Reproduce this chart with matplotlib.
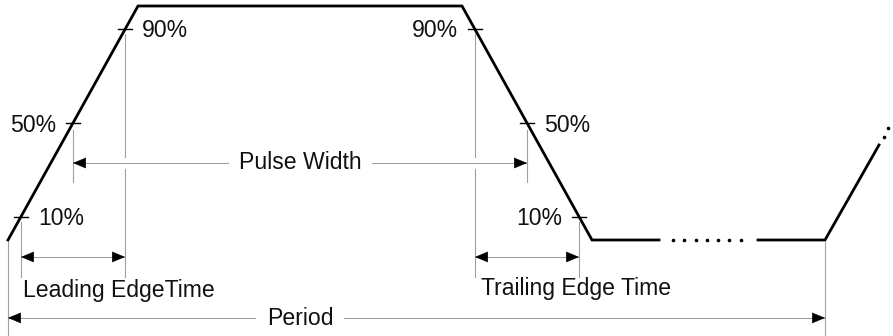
"""Pulse timing diagram: leading/trailing edge time, pulse width, period."""
import matplotlib
matplotlib.use("Agg")
import matplotlib.pyplot as plt

plt.rcParams["font.family"] = ["Liberation Sans", "DejaVu Sans"]

# waveform (x in px-like time units, y in normalised level 0..1)
WAVE_T = [8, 138, 462, 592, 659]
WAVE_LEVEL = [0.0, 1.0, 1.0, 0.0, 0.0]
GAP_DOTS_T = [673, 684, 696, 707, 718, 729, 741]
TAIL_T = [758, 825, 879]
TAIL_LEVEL = [0.0, 0.0, 0.406]
TAIL_DOTS_T = [884, 888]
TAIL_DOTS_LEVEL = [0.44, 0.48]

PCT_LEVELS = [0.1, 0.5, 0.9]
PCT_LABELS = ["10%", "50%", "90%"]
RISE_CROSS_T = [21, 73, 125]    # crossing times for 10/50/90 %
FALL_CROSS_T = [579, 527, 475]
RISE_SIDE = [1, -1, 1]     # label to the right (+1) or left (-1) of the tick
FALL_SIDE = [-1, 1, -1]
LABEL_BASE = [0.064, 0.462, 0.868]

PERIOD_T = (8, 825)
LINE_GREY = "#a0a0a0"
BLACK = "#000000"
FS = 16.6


def guide(ax, x, y0, y1):
    ax.plot([x, x], [y0, y1], color=LINE_GREY, lw=0.8, zorder=1)


def head(ax, x, y, direction):
    ax.annotate("", xy=(x, y), xytext=(-9.0 * direction, 0),
                textcoords="offset points",
                arrowprops=dict(arrowstyle="-|>,head_length=8.6,head_width=3.6",
                                mutation_scale=1, color=BLACK, lw=0.4,
                                shrinkA=0, shrinkB=0), zorder=4)


def dim_arrow(ax, x0, x1, y):
    ax.plot([x0, x1], [y, y], color=LINE_GREY, lw=0.8, zorder=1)
    head(ax, x0, y, -1)
    head(ax, x1, y, 1)


fig = plt.figure(figsize=(8.93, 3.36), dpi=100)
ax = fig.add_axes([0, 0, 1, 1])
ax.set_xlim(0, 893)
ax.set_ylim(-0.4103, 1.0256)
ax.axis("off")

# waveform
ax.plot(WAVE_T, WAVE_LEVEL, color=BLACK, lw=2.0, solid_joinstyle="miter", zorder=3)
ax.plot(GAP_DOTS_T, [0.0] * len(GAP_DOTS_T), ls="none", marker="o",
        ms=1.6, color=BLACK, zorder=3)
ax.plot(TAIL_T, TAIL_LEVEL, color=BLACK, lw=2.0, solid_joinstyle="miter", zorder=3)
ax.plot(TAIL_DOTS_T, TAIL_DOTS_LEVEL, ls="none", marker="o", ms=1.6,
        color=BLACK, zorder=3)

# percentage ticks and labels
for crosses, sides in ((RISE_CROSS_T, RISE_SIDE), (FALL_CROSS_T, FALL_SIDE)):
    for t, lev, lab, side, base in zip(crosses, PCT_LEVELS, PCT_LABELS, sides, LABEL_BASE):
        ax.plot([t - 7, t + 7], [lev, lev], color=BLACK, lw=1.0, zorder=3)
        ax.text(t + side * 17, base, lab, fontsize=FS,
                ha="left" if side > 0 else "right", va="baseline", color="#111111")

# vertical guides
y_pw = 0.329
for t in (RISE_CROSS_T[2], FALL_CROSS_T[2]):
    guide(ax, t, 0.88, 0.355)
    guide(ax, t, 0.304, -0.158)
for t in (RISE_CROSS_T[1], FALL_CROSS_T[1]):
    guide(ax, t, 0.47, 0.248)
for t in (RISE_CROSS_T[0], FALL_CROSS_T[0]):
    guide(ax, t, 0.077, -0.158)
for t in PERIOD_T:
    guide(ax, t, -0.009, -0.4103)

# pulse width
dim_arrow(ax, RISE_CROSS_T[1], FALL_CROSS_T[1], y_pw)
ax.text(300.5, 0.302, "Pulse Width", fontsize=FS, ha="center", va="baseline",
        color="#111111", zorder=2,
        bbox=dict(boxstyle="square,pad=0.45", fc="white", ec="none"))

# edge times
y_edge = -0.0726
dim_arrow(ax, RISE_CROSS_T[0], RISE_CROSS_T[2], y_edge)
dim_arrow(ax, FALL_CROSS_T[2], FALL_CROSS_T[0], y_edge)
ax.text(23, -0.243, "Leading EdgeTime", fontsize=FS, ha="left", va="baseline",
        color="#111111")
ax.text(481, -0.235, "Trailing Edge Time", fontsize=FS, ha="left", va="baseline",
        color="#111111")

# period
y_per = -0.333
dim_arrow(ax, PERIOD_T[0], PERIOD_T[1], y_per)
ax.text(300, -0.363, "Period", fontsize=FS, ha="center", va="baseline",
        color="#111111", zorder=2,
        bbox=dict(boxstyle="square,pad=0.45", fc="white", ec="none"))

fig.savefig("out.png", dpi=100, facecolor="white")
